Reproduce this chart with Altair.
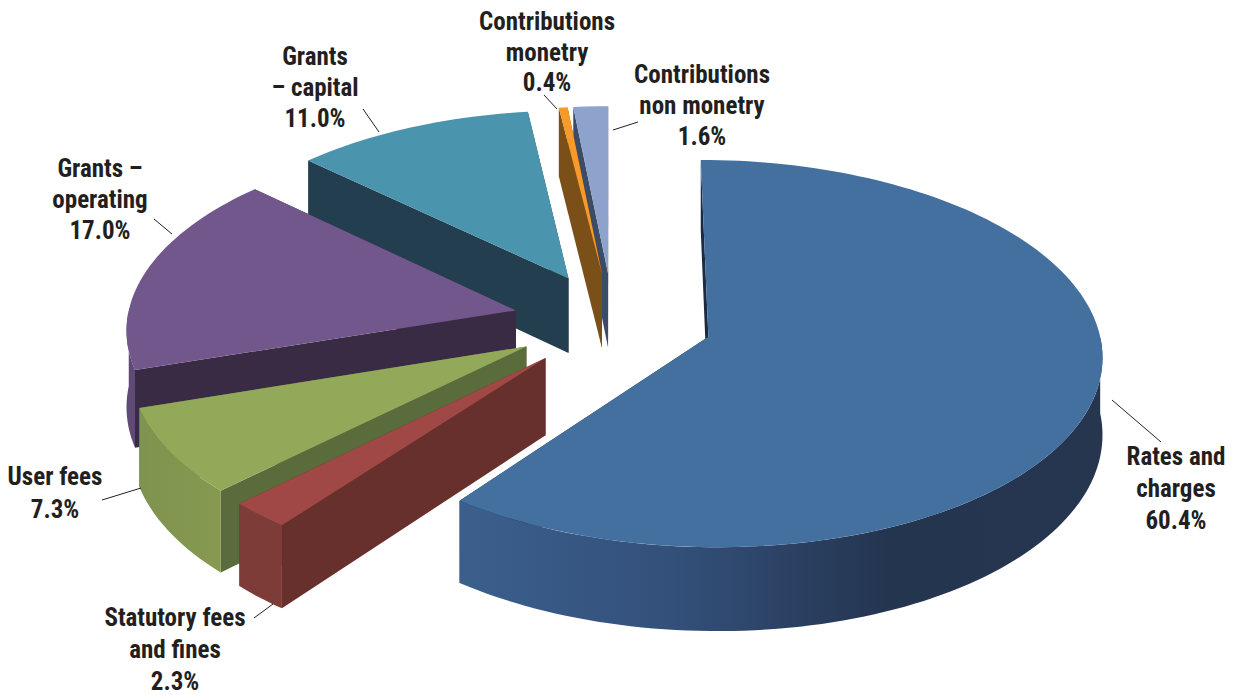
import math
import altair as alt
import pandas as pd

# Revenue shares, clockwise from twelve o'clock
categories = ["Rates and charges", "Statutory fees and fines", "User fees", "Grants – operating",
              "Grants – capital", "Contributions monetry", "Contributions non monetry"]
shares = [60.4, 2.3, 7.3, 17.0, 11.0, 0.4, 1.6]

# Multi-line label text per category
label_lines = [["Rates and", "charges", "60.4%"], ["Statutory fees", "and fines", "2.3%"],
               ["User fees", "7.3%"], ["Grants –", "operating", "17.0%"],
               ["Grants", "– capital", "11.0%"], ["Contributions", "monetry", "0.4%"],
               ["Contributions", "non monetry", "1.6%"]]

# Layout of labels: centre x, first line y, line step
label_layout = [(1176, 457, 32), (175, 618, 32), (55, 477, 33), (100, 169, 31),
                (315, 57, 31), (547, 22, 30.5), (702, 75, 31)]
leaders = [(1112, 400, 1161, 442), (254, 618, 273, 604), (102, 500, 141, 488), (154, 219, 172, 234),
           (363, 109, 379, 132), (544, 95, 557, 109), (613, 130, 638, 122)]

# Surface colours: top face, leading wall, outer wall gradient stops
top_colours = ["#44709f", "#a04845", "#92a95a", "#71578b", "#4a95ad", "#f79a28", "#8ea3cc"]
wall_colours = ["#1c2b44", "#67302c", "#5a6c3c", "#3a2b44", "#233f4f", "#7a4f18", "#3c4b66"]
outer_colours = [["#3b5f8c", "#33507a", "#243550", "#27364f"], ["#7e3c38", "#7e3c38"],
                 ["#7f9350", "#86994f"], ["#5f4a75", "#5f4a75"], ["#2c5f70", "#2c5f70"],
                 ["#a87020", "#a87020"], ["#6f82a8", "#6f82a8"]]

# Pie geometry and camera
CX, CY = 613, 321
RADIUS, EXPLODE, DEPTH = 389, 100, 76
TILT, VANISH = 0.487, 4500
ARC_STEP = 1.5
FRONT_ARC = (90.0, 270.0)


def project(u, v, h=0.0):
    s = 1 / (1 + v / VANISH)
    return CX + u * s, CY - TILT * v * s + h * s


x_scale = alt.Scale(domain=[0, 1234], range=[0, 1234], nice=False, zero=False)
y_scale = alt.Scale(domain=[0, 695], range=[0, 695], nice=False, zero=False)


def polygon_layer(points, fill):
    frame = pd.DataFrame(points, columns=["x", "y"])
    frame["i"] = range(len(frame))
    return alt.Chart(frame).mark_line(fill=fill, stroke=None, interpolate="linear").encode(
        x=alt.X("x:Q", scale=x_scale, axis=None),
        y=alt.Y("y:Q", scale=y_scale, axis=None),
        order="i:Q",
    )


def gradient(stops):
    n = len(stops) - 1
    return alt.Gradient(gradient="linear", x1=0, x2=1, y1=0, y2=0,
                        stops=[alt.GradientStop(offset=k / n, color=c) for k, c in enumerate(stops)])


spans = []
start = 0.0
for share in shares:
    spans.append((start, start + share * 3.6))
    start += share * 3.6


def sweep(a0, a1):
    n = max(2, int((a1 - a0) / ARC_STEP))
    return [a0 + (a1 - a0) * k / n for k in range(n + 1)]


def slice_layers(idx):
    a0, a1 = spans[idx]
    mid = math.radians((a0 + a1) / 2)
    ex, ey = EXPLODE * math.sin(mid), EXPLODE * math.cos(mid)

    def rim(a, h=0.0):
        r = math.radians(a)
        return project(ex + RADIUS * math.sin(r), ey + RADIUS * math.cos(r), h)

    apex_top, apex_low = project(ex, ey), project(ex, ey, DEPTH)
    layers = []
    # Radial walls first, the closing wall before the opening one
    for a in (a1, a0):
        quad = [apex_top, rim(a), rim(a, DEPTH), apex_low, apex_top]
        layers.append(polygon_layer(quad, wall_colours[idx]))
    # Curved outer wall, only where it faces the viewer
    w0, w1 = max(a0, FRONT_ARC[0]), min(a1, FRONT_ARC[1])
    if w1 > w0:
        angles = sweep(w0, w1)
        upper = [rim(a) for a in angles]
        lower = [rim(a, DEPTH) for a in reversed(angles)]
        layers.append(polygon_layer(upper + lower + upper[:1], gradient(outer_colours[idx])))
    # Top face
    layers.append(polygon_layer([apex_top] + [rim(a) for a in sweep(a0, a1)] + [apex_top], top_colours[idx]))
    return layers


layers = []
for idx in [6, 5, 4, 3, 2, 1, 0]:
    layers.extend(slice_layers(idx))

# Leader lines
leader_rows = pd.DataFrame(leaders, columns=["x", "y", "x2", "y2"])
layers.append(alt.Chart(leader_rows).mark_rule(color="#231f20", strokeWidth=1).encode(
    x=alt.X("x:Q", scale=x_scale, axis=None), y=alt.Y("y:Q", scale=y_scale, axis=None),
    x2="x2:Q", y2="y2:Q"))

# Category labels, one row per text line
text_rows = []
for lines, (lx, ly, step) in zip(label_lines, label_layout):
    for k, line in enumerate(lines):
        text_rows.append({"x": lx, "y": ly + k * step, "t": line})
layers.append(alt.Chart(pd.DataFrame(text_rows)).mark_text(
    font="'Roboto Condensed', 'Open Sans Condensed', 'Noto Sans Condensed', 'DejaVu Sans Condensed', Lato",
    fontWeight="bold", fontSize=25, color="#231f20",
    align="center", baseline="middle").encode(
    x=alt.X("x:Q", scale=x_scale, axis=None), y=alt.Y("y:Q", scale=y_scale, axis=None), text="t:N"))

chart = alt.layer(*layers).properties(
    width=1234, height=695, padding=0, autosize=alt.AutoSizeParams(type="none"), background="white"
).configure_view(stroke=None)

chart.save("out.html", embed_options={"renderer": "svg", "actions": False})
